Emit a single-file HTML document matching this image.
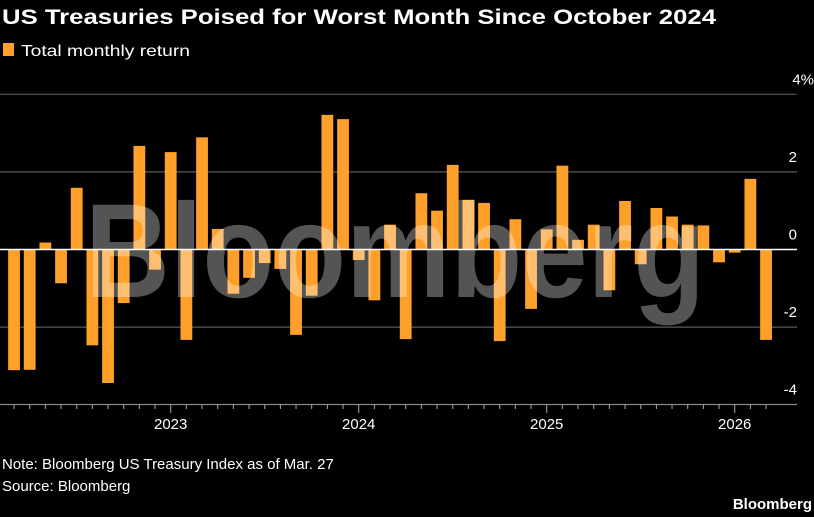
<!DOCTYPE html>
<html><head><meta charset="utf-8"><style>
body{margin:0;background:#000;width:814px;height:517px;overflow:hidden;font-family:"Liberation Sans",sans-serif;color:#fff}
</style></head><body>
<svg width="814" height="517" style="position:absolute;left:0;top:0">
<text x="2" y="24" font-size="21" font-weight="bold" fill="#fff" textLength="714" lengthAdjust="spacingAndGlyphs">US Treasuries Poised for Worst Month Since October 2024</text>
<rect x="3" y="43" width="11" height="13" fill="#ffa02a"/>
<text x="21" y="56" font-size="16" fill="#fff" textLength="169" lengthAdjust="spacingAndGlyphs">Total monthly return</text>
<g id="grid"></g>
<g id="bars"></g>
<text x="395" y="297" font-size="134" font-weight="bold" text-anchor="middle" fill="rgba(255,255,255,0.33)" textLength="620" lengthAdjust="spacingAndGlyphs">Bloomberg</text>
<g id="xaxis"></g>
<text x="2" y="469" font-size="15" fill="#fff">Note: Bloomberg US Treasury Index as of Mar. 27</text>
<text x="2" y="491" font-size="15" fill="#fff">Source: Bloomberg</text>
<text x="812" y="509" font-size="15" font-weight="bold" text-anchor="end" fill="#fff">Bloomberg</text>
</svg>
<script>
const values=[-3.11,-3.10,0.18,-0.87,1.59,-2.47,-3.44,-1.38,2.67,-0.52,
2.51,-2.33,2.89,0.53,-1.14,-0.73,-0.35,-0.5,-2.2,-1.19,3.47,3.36,
-0.27,-1.31,0.64,-2.31,1.45,1.0,2.18,1.28,1.2,-2.36,0.78,-1.53,
0.52,2.16,0.25,0.64,-1.05,1.25,-0.38,1.07,0.85,0.64,0.62,-0.33,
-0.08,1.82,-2.33];
const startIndex=-10; // months relative to Jan 2023 (Mar 2022)
const yTicks=[4,2,0,-2,-4];
const yTickLabels=["4%","2","0","-2","-4"];
const years=["2023","2024","2025","2026"];
const NS="http://www.w3.org/2000/svg";
const x=m=>170.7+m*15.667;
const y=v=>249.5-v*38.8;
function mk(t,a,p){const e=document.createElementNS(NS,t);for(const k in a)e.setAttribute(k,a[k]);p.appendChild(e);return e;}
const grid=document.getElementById('grid');
yTicks.forEach((t,i)=>{
 if(t!==-4&&t!==0){const l=mk('line',{x1:0,x2:797,y1:y(t),y2:y(t),stroke:'#5a5a5a','stroke-width':1.2},grid);
 
 }
 const tx=mk('text',{x:t===4?814:797,y:y(t)-10,'font-size':15,fill:'#fff','text-anchor':'end'},grid);
 tx.textContent=yTickLabels[i];
 
 
});
const bars=document.getElementById('bars');
values.forEach((v,i)=>{
 const cx=x(startIndex+i);
 const r=mk('rect',{x:cx-5.9,width:11.8,y:Math.min(y(v),y(0)),height:Math.abs(y(v)-y(0)),fill:'#ffa02a'},bars);
 
 
});
const zl=mk('line',{x1:0,x2:797,y1:y(0),y2:y(0),stroke:'#fff','stroke-width':1.5},bars);


const xa=document.getElementById('xaxis');
const al=mk('line',{x1:0,x2:797,y1:404.5,y2:404.5,stroke:'#888','stroke-width':1.2},xa);


for(let m=startIndex;m<=startIndex+values.length-1;m++){
 const major=((m%12)+12)%12===0;
 const t=mk('line',{x1:x(m),x2:x(m),y1:404.5,y2:major?413:409,stroke:'#aaa','stroke-width':1},xa);
 
 
}
years.forEach((yr,i)=>{
 const t=mk('text',{x:x(i*12),y:429,'font-size':15,fill:'#fff','text-anchor':'middle'},xa);
 t.textContent=yr;
 
 
});
</script>
</body></html>
